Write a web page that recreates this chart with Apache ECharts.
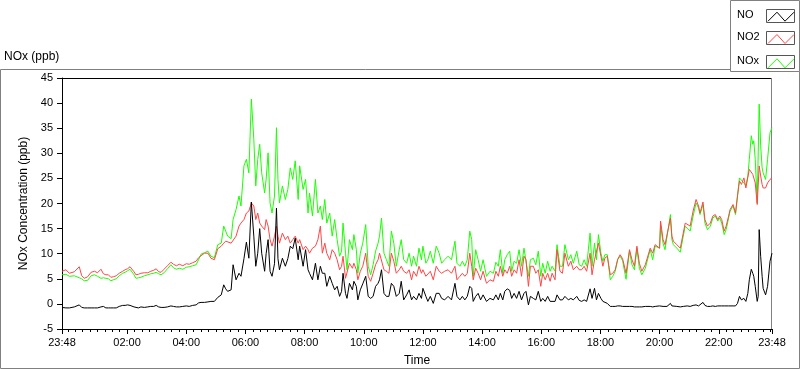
<!DOCTYPE html>
<html><head><meta charset="utf-8">
<script src="https://cdn.jsdelivr.net/npm/echarts@6/dist/echarts.min.js"></script>
<style>html,body{margin:0;padding:0;background:#fff}#c{width:800px;height:369px}</style>
</head><body><div id="c"></div>
<script>
// minutes elapsed since 23:48 (start of record)
const timeMin = [0,8,15,25,35,40,45,52,59,66,72,79,84,89,94,99,104,110,116,123,128,133,138,142,146,150,155,160,167,174,180,186,191,196,201,207,214,221,226,232,238,245,252,258,265,272,277,282,289,
296,302,309,316,323,328,332,336,343,347,353,359,363,369,374,379,384,389,393,397,401,405,411,414,418,422,426,431,435,438,441,447,453,458,463,468,473,479,482,489,494,499,502,508,514,519,524,528,533,537,543,548,553,558,563,567,570,
575,578,583,589,592,597,600,605,610,616,621,626,631,636,641,644,648,653,658,663,668,673,678,684,688,693,699,704,709,713,719,724,729,732,738,742,747,753,759,765,770,776,783,790,797,801,807,812,817,822,827,831,834,839,844,849,854,
861,868,875,880,885,889,894,898,903,908,912,917,922,927,932,937,941,946,950,956,961,966,971,975,980,985,990,994,1000,1004,1010,1015,1020,1024,1027,1032,1037,1044,1049,1054,1059,1064,1071,1075,1080,1084,1088,1093,1097,1101,1106,1112,1117,1122,1127,1132,1137,
1144,1151,1156,1161,1166,1171,1176,1183,1187,1193,1198,1203,1207,1212,1214,1219,1223,1227,1234,1237,1240,1247,1254,1260,1264,1268,1274,1280,1286,1291,1294,1300,1304,1309,1315,1320,1325,1330,1334,1338,1343,1347,1352,1355,1361,1366,1370,1374,1378,1383,1387,1391,1394,1398,1401,1403,1406,1410,1412,1414,1417,1420,1422,1427,1431,1436,1440];

const noVals = [-0.7,-0.8,-0.8,-0.6,-0.2,-0.7,-0.8,-0.8,-0.8,-0.8,-0.8,-0.6,-0.5,-0.8,-0.8,-0.8,-0.8,-0.8,-0.5,-0.3,-0.3,-0.2,-0.3,-0.3,-0.6,-0.8,-0.8,-0.6,-0.7,-0.6,-0.5,-0.5,-0.3,-0.6,-0.7,-0.7,-0.6,-0.4,-0.5,-0.6,-0.6,-0.5,-0.4,-0.5,-0.3,-0.2,0.2,0.3,0.3,
0.4,0.5,0.5,1.3,1.8,3.8,3.0,2.5,2.8,7.8,4.8,6.1,5.5,9.0,12.3,9.1,20.3,13.5,7.5,10.1,15.0,10.1,6.5,10.0,12.8,6.5,5.5,8.0,19.1,9.0,6.8,9.1,7.5,9.0,11.5,11.0,13.1,8.8,11.5,7.5,10.8,6.8,6.1,4.8,8.1,4.8,7.5,6.1,6.1,3.5,5.5,4.1,2.8,3.5,1.5,2.5,6.1,
2.1,1.1,4.1,2.8,4.5,3.5,0.8,2.8,4.0,5.5,1.5,1.1,1.5,3.5,4.1,4.8,6.8,2.1,1.5,1.5,4.1,3.5,1.5,2.1,4.5,0.8,1.8,2.8,0.8,1.5,0.8,2.1,1.1,3.1,1.5,0.5,1.5,0.1,2.1,2.1,1.1,0.8,1.5,0.8,4.1,1.5,0.8,1.5,0.8,1.5,3.5,3.1,0.5,1.5,2.1,0.8,1.8,
0.5,1.1,0.8,1.8,0.8,2.1,0.8,2.5,3.0,2.7,1.1,2.1,1.1,2.5,0.8,2.1,2.5,-0.2,1.5,1.1,0.8,2.5,0.5,1.1,0.5,1.5,0.5,0.8,0.5,1.8,0.8,0.8,1.5,1.5,0.8,1.1,0.8,1.5,0.7,0.5,0.8,0.5,3.0,1.1,3.1,0.8,2.1,1.1,0.5,0.5,0.1,-0.5,-0.5,-0.5,-0.4,-0.4,-0.5,
-0.5,-0.5,-0.5,-0.6,-0.6,-0.6,-0.6,-0.5,-0.6,-0.5,-0.6,-0.5,-0.5,-0.4,-0.3,-0.5,-0.6,-0.5,0.1,-0.4,-0.5,-0.5,-0.6,-0.5,-0.5,-0.4,-0.5,-0.3,-0.2,-0.4,-0.3,0.3,-0.3,-0.5,-0.5,-0.4,-0.5,-0.4,-0.5,-0.4,-0.4,-0.5,-0.4,-0.3,-0.4,-0.4,0.1,1.5,0.8,1.1,0.5,2.1,4.8,6.9,6.1,5.5,3.5,0.5,1.5,14.8,9.5,5.5,3.1,1.8,3.5,8.5,10.1];

const no2Vals = [6.5,6.8,6.1,6.4,7.4,5.6,5.1,5.4,6.3,6.5,6.2,6.9,6.0,5.8,5.8,5.3,5.4,5.6,6.1,6.5,6.8,7.0,7.4,7.3,6.4,5.8,5.9,6.1,6.2,6.2,6.5,6.7,7.0,6.4,6.3,6.9,7.6,8.3,7.9,7.6,7.9,7.6,8.0,7.9,8.2,8.5,9.2,9.6,10.1,
10.1,9.1,8.8,11.0,11.5,12.1,12.5,12.8,12.1,12.0,13.5,15.5,16.1,16.8,18.1,18.5,20.1,19.5,16.8,18.1,16.1,15.5,14.8,16.8,15.5,12.8,11.5,13.5,15.5,13.5,12.1,14.1,12.8,13.5,12.1,12.8,13.5,12.1,12.8,10.8,11.5,10.8,10.1,11.1,11.5,12.8,15.5,10.1,12.1,10.1,8.8,10.8,10.1,8.8,6.8,7.5,9.5,
5.1,4.8,8.1,7.1,8.1,6.8,4.8,6.5,7.5,10.1,5.5,4.5,6.1,7.8,8.8,10.1,10.1,6.8,6.5,6.1,10.1,8.5,6.1,6.8,7.5,6.5,6.1,6.8,4.8,6.5,5.5,7.5,6.1,6.8,5.5,5.5,6.5,4.8,7.5,6.5,6.1,6.5,6.8,6.1,7.5,4.8,5.5,6.1,5.5,6.1,10.1,7.5,4.8,7.1,6.1,4.8,6.5,
4.1,4.8,4.5,6.5,5.5,7.5,5.5,6.8,6.1,7.5,5.5,6.8,6.1,8.8,5.5,9.5,8.8,3.5,7.5,7.5,6.1,6.8,3.5,6.1,4.8,6.1,4.5,6.1,4.8,10.8,6.5,6.1,10.1,9.8,7.5,8.5,6.8,7.5,6.8,6.8,7.5,6.5,10.1,5.8,8.8,8.5,12.1,9.5,7.5,9.1,9.5,5.8,6.1,6.8,8.9,9.8,9.0,
6.1,10.8,8.8,7.5,11.5,8.1,6.5,7.8,7.5,11.1,10.1,11.8,12.1,11.1,16.5,12.8,11.8,11.5,17.1,13.5,12.5,11.8,11.1,14.1,16.1,15.8,15.5,18.5,20.8,19.5,18.1,20.3,16.8,15.5,16.1,17.5,17.8,16.8,17.5,16.8,14.5,15.5,17.5,18.8,19.8,18.1,21.5,24.5,23.8,25.1,23.1,23.1,26.8,26.8,25.8,26.1,24.1,19.8,20.1,27.5,25.5,23.8,23.1,23.1,24.1,24.8,25.1];

const noxVals = [5.8,5.9,5.5,5.6,5.2,5.0,4.6,4.7,5.6,5.8,5.5,5.1,5.2,5.1,5.0,4.6,4.8,5.0,5.6,6.1,6.3,6.6,6.9,6.8,5.8,5.1,5.2,5.3,5.6,5.8,6.0,6.1,6.3,6.0,5.8,6.2,7.0,7.8,7.2,6.9,7.1,6.9,7.3,7.4,7.6,7.8,8.8,9.9,10.2,
10.5,9.5,9.2,11.8,12.1,15.5,14.5,13.5,13.0,16.8,18.8,21.5,19.5,27.5,28.8,26.1,40.8,32.8,23.5,28.8,31.8,26.1,22.1,24.8,30.1,20.1,18.1,21.5,35.1,24.8,20.1,23.5,20.8,22.8,27.1,24.8,28.5,20.8,27.5,22.8,24.8,18.1,22.1,17.5,24.8,18.1,19.5,16.8,20.8,16.1,18.1,13.5,16.8,12.8,9.5,10.5,16.1,
10.1,6.8,12.8,10.8,13.8,10.8,6.1,10.1,12.1,15.8,7.5,5.8,7.8,10.5,12.1,13.5,17.1,10.1,8.8,7.5,14.5,12.1,7.5,10.8,12.8,8.8,8.1,10.1,7.5,9.5,7.5,11.1,8.8,11.5,8.1,8.8,10.5,8.1,11.5,10.1,8.1,8.8,9.5,8.8,12.5,8.1,7.5,8.5,7.5,8.8,14.5,12.8,5.5,10.8,8.8,6.5,8.8,
5.5,6.5,6.1,8.3,7.5,10.8,6.1,8.8,9.8,10.5,6.5,8.5,8.1,10.8,7.5,11.1,10.8,5.5,8.8,9.1,7.8,10.5,5.5,8.1,6.1,8.5,6.5,7.5,6.5,11.8,7.5,7.5,11.8,12.1,8.8,9.8,8.1,10.5,7.8,7.5,8.8,7.5,14.1,7.5,12.1,8.8,13.8,10.1,8.5,9.8,9.8,4.8,5.5,6.5,8.8,9.5,8.6,
4.9,10.5,7.8,6.8,11.1,7.1,5.8,7.1,6.8,10.8,8.8,11.5,11.8,11.1,15.8,12.1,10.8,10.8,17.8,12.8,11.8,11.1,10.3,13.5,15.5,15.1,14.5,17.5,20.1,19.1,17.8,19.8,16.1,14.8,15.5,17.1,17.5,16.5,17.1,16.1,13.8,14.8,17.1,18.5,19.5,17.8,21.5,25.1,24.8,24.1,23.5,25.5,28.8,33.5,31.8,32.5,28.8,20.1,19.8,39.8,31.5,27.1,26.1,24.8,28.8,34.1,35.1];

const seriesNames = ['NO', 'NO2', 'NOx'];
const seriesColors = ['#000000', '#ff4545', '#1aff00'];
const xTickLabels = ['23:48','02:00','04:00','06:00','08:00','10:00','12:00','14:00','16:00','18:00','20:00','22:00','23:48'];

const START = 23*60+48;
const xTickPos = xTickLabels.map((s, i) => {
  const [h, m] = s.split(':').map(Number);
  let p = ((h*60+m) - START + 1440) % 1440;
  if (i === xTickLabels.length - 1 && p === 0) p = 1440;
  return p;
});
const minorTickPos = [];
for (let p = 12; p < 1440; p += 15) minorTickPos.push(p);

const FONT = 'Liberation Sans, Arial, sans-serif';
const pair = arr => timeMin.map((t, i) => [t, arr[i]]);
const valueSets = [noVals, no2Vals, noxVals];
const chart = echarts.init(document.getElementById('c'));
const textCenters = [12.7, 35, 59.3];
const gridBox = () => ({left: 62, top: 78, right: 28, bottom: 40, containLabel: false, outerBoundsMode: 'none'});

const legends = seriesNames.map((n, i) => ({
  data: [{name: n, itemStyle: {color: 'none', borderColor: seriesColors[i], borderWidth: 1}}],
  orient: 'vertical', left: 737, top: textCenters[i] - 7, align: 'right',
  itemWidth: 26, itemHeight: 13, selectedMode: false, padding: 0,
  icon: 'path://M0,0M0,13L9,4L17,13L26,4',
  formatter: '{n|{name}}',
  textStyle: {fontFamily: FONT, fontSize: 11, color: '#000',
    rich: {n: {width: 26, align: 'left', fontSize: 11, fontFamily: FONT, color: '#000', lineHeight: 14}}}
}));

const frame = [
  {type: 'polyline', shape: {points: [[730, 69.5], [0.5, 69.5], [0.5, 368.5], [799.5, 368.5], [799.5, 71.5]]},
    style: {stroke: '#808080', fill: null, lineWidth: 1}, silent: true},
  {type: 'rect', shape: {x: 730.5, y: 0.5, width: 69, height: 71}, style: {stroke: '#808080', fill: null, lineWidth: 1}, silent: true},
  {type: 'line', shape: {x1: 62, y1: 78.5, x2: 772, y2: 78.5}, style: {stroke: '#000', lineWidth: 1}, silent: true},
  {type: 'line', shape: {x1: 771.5, y1: 78, x2: 771.5, y2: 329}, style: {stroke: '#808080', lineWidth: 1}, silent: true}
].concat(textCenters.map(c => ({type: 'rect', shape: {x: 766.5, y: Math.round(c - 4) + 0.5, width: 28, height: 13},
    style: {stroke: '#555', fill: null, lineWidth: 1}, silent: true})));

chart.setOption({
  animation: false,
  title: {text: 'NOx (ppb)', left: 4, top: 51, padding: 0,
    textStyle: {fontSize: 12, fontWeight: 'normal', color: '#000', fontFamily: FONT}},
  legend: legends,
  grid: [gridBox(), gridBox()],
  xAxis: [
    {type: 'value', gridIndex: 0, min: 0, max: 1440, position: 'bottom',
      axisLine: {show: true, onZero: false, lineStyle: {color: '#000', width: 1}},
      axisTick: {show: true, length: 5, customValues: xTickPos, lineStyle: {color: '#000'}},
      axisLabel: {customValues: xTickPos, margin: 8, fontSize: 11, color: '#000', fontFamily: FONT,
        formatter: v => { const i = xTickPos.indexOf(v); return i >= 0 ? xTickLabels[i] : ''; }},
      splitLine: {show: false},
      name: 'Time', nameLocation: 'middle', nameGap: 26,
      nameTextStyle: {fontSize: 12, color: '#000', fontFamily: FONT}},
    {type: 'value', gridIndex: 1, min: 0, max: 1440, position: 'bottom',
      axisLine: {show: false, onZero: false},
      axisTick: {show: true, length: 3, customValues: minorTickPos, lineStyle: {color: '#000'}},
      axisLabel: {show: false}, splitLine: {show: false}}
  ],
  yAxis: [
    {type: 'value', gridIndex: 0, min: -5, max: 45, interval: 5,
      axisLine: {show: true, onZero: false, lineStyle: {color: '#000', width: 1}},
      axisTick: {show: true, length: 5, lineStyle: {color: '#000'}},
      axisLabel: {margin: 9, fontSize: 11, color: '#000', fontFamily: FONT},
      splitLine: {show: false},
      name: 'NOx Concentration (ppb)', nameLocation: 'middle', nameRotate: 90, nameGap: 24,
      nameTextStyle: {fontSize: 12, color: '#000', fontFamily: FONT}},
    {type: 'value', gridIndex: 1, min: -5, max: 45, show: false}
  ],
  series: [2, 1, 0].map(i => ({
    name: seriesNames[i], type: 'line', xAxisIndex: 0, yAxisIndex: 0,
    data: pair(valueSets[i]), symbol: 'none',
    lineStyle: {color: seriesColors[i], width: 1}, z: 3 - i
  })),
  graphic: frame
});
</script></body></html>
